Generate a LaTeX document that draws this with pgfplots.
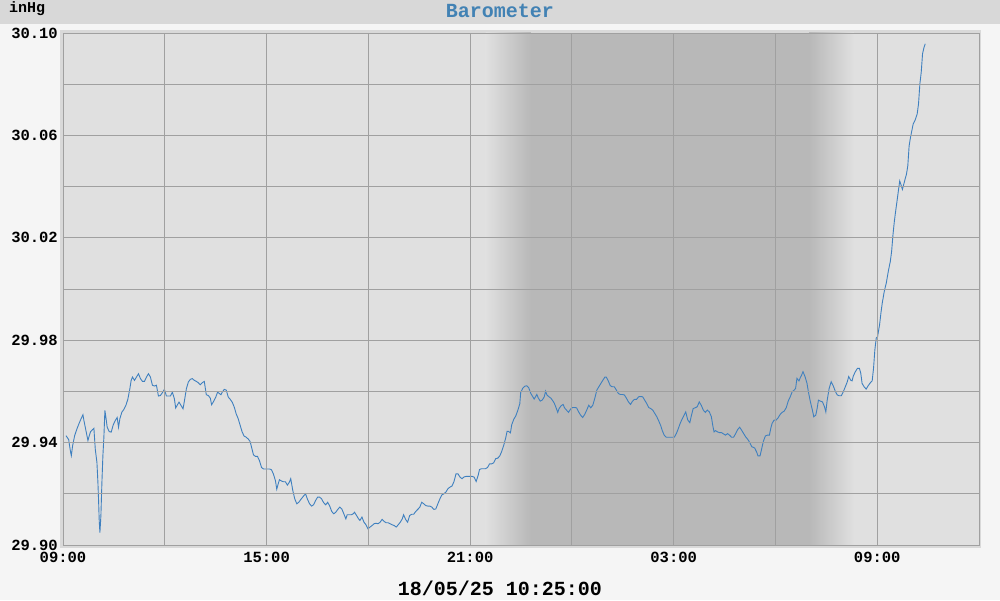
\documentclass[border=0pt]{standalone}
\usepackage{fontspec}
\setmainfont{Liberation Mono}
\usepackage{pgfplots}
\usepackage{pgfplotstable}
\pgfplotsset{compat=1.18}
\definecolor{bgc}{HTML}{F5F5F5}
\definecolor{titlebar}{HTML}{D8D8D8}
\definecolor{framec}{HTML}{D9D9D9}
\definecolor{plotbg}{HTML}{E0E0E0}
\definecolor{nightc}{HTML}{B8B8B8}
\definecolor{gridc}{HTML}{A0A0A0}
\definecolor{titleblue}{HTML}{4282B4}
\definecolor{lineblue}{HTML}{3F80BF}
\pgfplotstableread{
t v
0.088 29.9427
0.167 29.9412
0.216 29.9369
0.245 29.9349
0.284 29.9388
0.343 29.9427
0.412 29.9454
0.480 29.9477
0.539 29.9495
0.588 29.9509
0.617 29.9486
0.676 29.9447
0.735 29.9408
0.774 29.9427
0.813 29.9443
0.872 29.9451
0.911 29.9456
0.951 29.9375
1.000 29.9323
1.029 29.9245
1.049 29.9173
1.068 29.9094
1.088 29.9048
1.117 29.9114
1.147 29.9245
1.176 29.9349
1.205 29.9421
1.235 29.9526
1.264 29.9499
1.303 29.9460
1.362 29.9443
1.421 29.9441
1.480 29.9469
1.539 29.9486
1.597 29.9498
1.637 29.9460
1.676 29.9493
1.735 29.9519
1.793 29.9529
1.852 29.9545
1.911 29.9569
1.970 29.9610
2.009 29.9643
2.048 29.9656
2.107 29.9643
2.166 29.9656
2.225 29.9669
2.283 29.9650
2.342 29.9639
2.401 29.9639
2.460 29.9656
2.519 29.9669
2.577 29.9656
2.636 29.9624
2.695 29.9621
2.754 29.9624
2.813 29.9582
2.871 29.9584
2.930 29.9595
2.989 29.9608
3.048 29.9582
3.107 29.9582
3.165 29.9582
3.224 29.9597
3.283 29.9571
3.322 29.9535
3.361 29.9545
3.420 29.9558
3.479 29.9545
3.538 29.9532
3.577 29.9561
3.636 29.9610
3.695 29.9637
3.753 29.9647
3.812 29.9650
3.871 29.9643
3.930 29.9639
3.989 29.9634
4.047 29.9626
4.106 29.9634
4.165 29.9639
4.224 29.9587
4.283 29.9584
4.341 29.9574
4.381 29.9548
4.439 29.9561
4.498 29.9576
4.557 29.9597
4.616 29.9591
4.655 29.9587
4.694 29.9597
4.753 29.9608
4.812 29.9605
4.871 29.9578
4.929 29.9569
4.988 29.9558
5.047 29.9539
5.106 29.9512
5.165 29.9493
5.223 29.9467
5.282 29.9441
5.341 29.9425
5.400 29.9421
5.459 29.9414
5.517 29.9404
5.557 29.9382
5.615 29.9352
5.674 29.9346
5.733 29.9346
5.792 29.9329
5.851 29.9303
5.909 29.9297
5.968 29.9297
6.027 29.9297
6.086 29.9297
6.145 29.9294
6.203 29.9277
6.262 29.9251
6.301 29.9218
6.341 29.9238
6.380 29.9255
6.439 29.9250
6.498 29.9247
6.556 29.9247
6.615 29.9234
6.674 29.9246
6.713 29.9259
6.773 29.9213
6.832 29.9180
6.891 29.9161
6.951 29.9167
7.010 29.9178
7.089 29.9191
7.149 29.9200
7.208 29.9178
7.268 29.9161
7.327 29.9152
7.386 29.9157
7.446 29.9174
7.505 29.9187
7.565 29.9187
7.624 29.9180
7.683 29.9165
7.743 29.9157
7.802 29.9167
7.862 29.9152
7.921 29.9131
7.980 29.9122
8.040 29.9128
8.099 29.9139
8.159 29.9148
8.218 29.9141
8.277 29.9122
8.337 29.9102
8.376 29.9118
8.436 29.9118
8.495 29.9118
8.554 29.9122
8.594 29.9128
8.653 29.9115
8.713 29.9102
8.752 29.9096
8.812 29.9109
8.871 29.9089
8.931 29.9079
8.990 29.9063
9.050 29.9070
9.109 29.9076
9.168 29.9083
9.228 29.9085
9.287 29.9083
9.347 29.9089
9.406 29.9100
9.465 29.9092
9.525 29.9087
9.584 29.9087
9.644 29.9083
9.703 29.9079
9.762 29.9076
9.822 29.9070
9.881 29.9079
9.941 29.9089
10.000 29.9102
10.040 29.9118
10.099 29.9100
10.158 29.9089
10.218 29.9115
10.277 29.9120
10.337 29.9120
10.396 29.9131
10.455 29.9139
10.515 29.9147
10.574 29.9167
10.634 29.9161
10.693 29.9154
10.752 29.9152
10.812 29.9152
10.871 29.9148
10.931 29.9139
10.990 29.9141
11.049 29.9161
11.109 29.9180
11.168 29.9196
11.228 29.9200
11.287 29.9207
11.346 29.9220
11.406 29.9226
11.465 29.9230
11.525 29.9248
11.584 29.9278
11.643 29.9278
11.703 29.9265
11.762 29.9259
11.822 29.9266
11.881 29.9268
11.940 29.9268
12.000 29.9268
12.059 29.9268
12.119 29.9265
12.178 29.9248
12.237 29.9272
12.277 29.9295
12.336 29.9298
12.396 29.9298
12.455 29.9298
12.515 29.9303
12.574 29.9317
12.633 29.9317
12.693 29.9321
12.752 29.9337
12.812 29.9339
12.871 29.9347
12.930 29.9365
12.990 29.9389
13.049 29.9418
13.089 29.9444
13.128 29.9444
13.188 29.9438
13.227 29.9470
13.287 29.9491
13.346 29.9504
13.406 29.9526
13.465 29.9552
13.491 29.9596
13.550 29.9612
13.610 29.9620
13.669 29.9622
13.729 29.9614
13.789 29.9592
13.848 29.9579
13.888 29.9570
13.928 29.9579
13.967 29.9588
14.007 29.9575
14.067 29.9562
14.126 29.9566
14.186 29.9579
14.225 29.9601
14.265 29.9586
14.325 29.9579
14.384 29.9573
14.444 29.9562
14.484 29.9553
14.543 29.9533
14.583 29.9518
14.623 29.9533
14.682 29.9544
14.742 29.9549
14.782 29.9536
14.841 29.9527
14.901 29.9518
14.960 29.9531
15.020 29.9537
15.079 29.9537
15.139 29.9536
15.199 29.9520
15.258 29.9507
15.318 29.9498
15.377 29.9510
15.437 29.9527
15.497 29.9546
15.556 29.9536
15.616 29.9546
15.675 29.9573
15.735 29.9605
15.794 29.9618
15.854 29.9631
15.914 29.9644
15.973 29.9656
16.013 29.9656
16.072 29.9641
16.132 29.9622
16.192 29.9618
16.251 29.9618
16.311 29.9605
16.370 29.9592
16.430 29.9588
16.490 29.9588
16.549 29.9586
16.609 29.9573
16.668 29.9559
16.728 29.9549
16.787 29.9562
16.847 29.9569
16.907 29.9569
16.966 29.9579
17.026 29.9580
17.085 29.9579
17.145 29.9566
17.204 29.9553
17.264 29.9537
17.324 29.9533
17.383 29.9527
17.443 29.9514
17.502 29.9501
17.562 29.9484
17.622 29.9465
17.661 29.9448
17.721 29.9429
17.780 29.9421
17.840 29.9421
17.900 29.9421
17.959 29.9421
18.019 29.9421
18.078 29.9435
18.138 29.9455
18.197 29.9477
18.257 29.9494
18.317 29.9510
18.356 29.9520
18.416 29.9488
18.476 29.9478
18.515 29.9501
18.575 29.9533
18.634 29.9536
18.694 29.9540
18.754 29.9559
18.813 29.9546
18.873 29.9527
18.932 29.9518
18.992 29.9527
19.051 29.9520
19.111 29.9501
19.151 29.9468
19.190 29.9442
19.230 29.9447
19.290 29.9442
19.349 29.9439
19.409 29.9439
19.469 29.9434
19.528 29.9429
19.588 29.9435
19.647 29.9429
19.707 29.9421
19.766 29.9421
19.826 29.9435
19.886 29.9451
19.945 29.9460
20.005 29.9448
20.064 29.9435
20.124 29.9422
20.183 29.9413
20.243 29.9400
20.303 29.9384
20.386 29.9379
20.446 29.9363
20.485 29.9348
20.545 29.9348
20.584 29.9370
20.644 29.9405
20.703 29.9426
20.762 29.9429
20.822 29.9429
20.861 29.9455
20.901 29.9475
20.960 29.9488
21.020 29.9488
21.079 29.9497
21.139 29.9510
21.198 29.9518
21.257 29.9523
21.317 29.9536
21.376 29.9562
21.436 29.9579
21.495 29.9599
21.554 29.9605
21.594 29.9612
21.634 29.9651
21.693 29.9641
21.733 29.9654
21.772 29.9664
21.812 29.9677
21.871 29.9658
21.931 29.9631
21.970 29.9599
22.030 29.9559
22.089 29.9527
22.129 29.9501
22.188 29.9507
22.228 29.9533
22.267 29.9566
22.327 29.9562
22.386 29.9559
22.445 29.9540
22.485 29.9520
22.525 29.9566
22.584 29.9612
22.643 29.9638
22.703 29.9622
22.762 29.9601
22.822 29.9586
22.881 29.9583
22.940 29.9583
23.000 29.9599
23.059 29.9618
23.119 29.9638
23.158 29.9658
23.218 29.9644
23.258 29.9641
23.297 29.9661
23.356 29.9677
23.416 29.9690
23.475 29.9690
23.515 29.9671
23.554 29.9631
23.614 29.9618
23.673 29.9609
23.732 29.9622
23.792 29.9633
23.851 29.9641
23.891 29.9690
23.930 29.9762
23.970 29.9808
24.010 29.9814
24.069 29.9860
24.109 29.9906
24.148 29.9945
24.208 29.9991
24.267 30.0023
24.326 30.0069
24.386 30.0108
24.425 30.0148
24.465 30.0213
24.505 30.0265
24.544 30.0305
24.584 30.0344
24.623 30.0383
24.663 30.0422
24.703 30.0406
24.742 30.0389
24.782 30.0409
24.821 30.0429
24.861 30.0448
24.901 30.0481
24.940 30.0559
24.980 30.0592
25.019 30.0618
25.059 30.0644
25.118 30.0660
25.178 30.0684
25.217 30.0723
25.257 30.0801
25.297 30.0847
25.336 30.0919
25.376 30.0942
25.415 30.0958
}\baro
\begin{document}
\begin{tikzpicture}
\fill[bgc] (0,0) rectangle (1000pt,600pt);
\fill[titlebar] (0,576pt) rectangle (1000pt,600pt);
\fill[framec] (60pt,52pt) rectangle (981pt,570pt);
\node[anchor=west, inner sep=0pt, font=\fontsize{15}{17}\selectfont\bfseries] at (9pt,591pt) {inHg};
\node[inner sep=0pt, font=\fontsize{20}{22}\selectfont\bfseries, text=titleblue] at (500pt,589pt) {Barometer};
\node[inner sep=0pt, font=\fontsize{20}{22}\selectfont\bfseries] at (500pt,12pt) {18/05/25 10:25:00};
\begin{axis}[
  at={(63pt,55pt)}, anchor=south west,
  scale only axis, width=916pt, height=512pt,
  xmin=0, xmax=27, ymin=29.90, ymax=30.10,
  axis on top,
  axis background/.style={fill=plotbg},
  xtick={0,6,12,18,24}, minor xtick={3,9,15,21},
  xticklabels={09:00,15:00,21:00,03:00,09:00},
  ytick={29.90,29.94,29.98,30.02,30.06,30.10},
  minor ytick={29.92,29.96,30.00,30.04,30.08},
  yticklabels={29.90,29.94,29.98,30.02,30.06,30.10},
  grid=both,
  grid style={draw=gridc, line width=0.9pt},
  minor grid style={draw=gridc, line width=0.9pt},
  major grid style={draw=gridc, line width=0.9pt},
  axis line style={draw=gridc, line width=0.9pt},
  major tick length=0pt, minor tick length=0pt,
  tick label style={font=\fontsize{15.5}{17}\selectfont\bfseries, inner sep=0pt},
  yticklabel style={anchor=east, xshift=-5pt},
  xticklabel style={anchor=north, yshift=-7pt},
]
\addplot[draw=none, fill=nightc] coordinates {(13.70,29.90) (13.70,30.10) (22.08,30.10) (22.08,29.90)} -- cycle;
\addplot[draw=none, left color=plotbg, right color=nightc] coordinates {(12.46,29.90) (12.46,30.10) (13.79,30.10) (13.79,29.90)} -- cycle;
\addplot[draw=none, left color=nightc, right color=plotbg] coordinates {(21.99,29.90) (21.99,30.10) (23.32,30.10) (23.32,29.90)} -- cycle;
\addplot[color=lineblue, line width=0.9pt, no marks] table[x=t, y=v] {\baro};
\end{axis}
\end{tikzpicture}
\end{document}
